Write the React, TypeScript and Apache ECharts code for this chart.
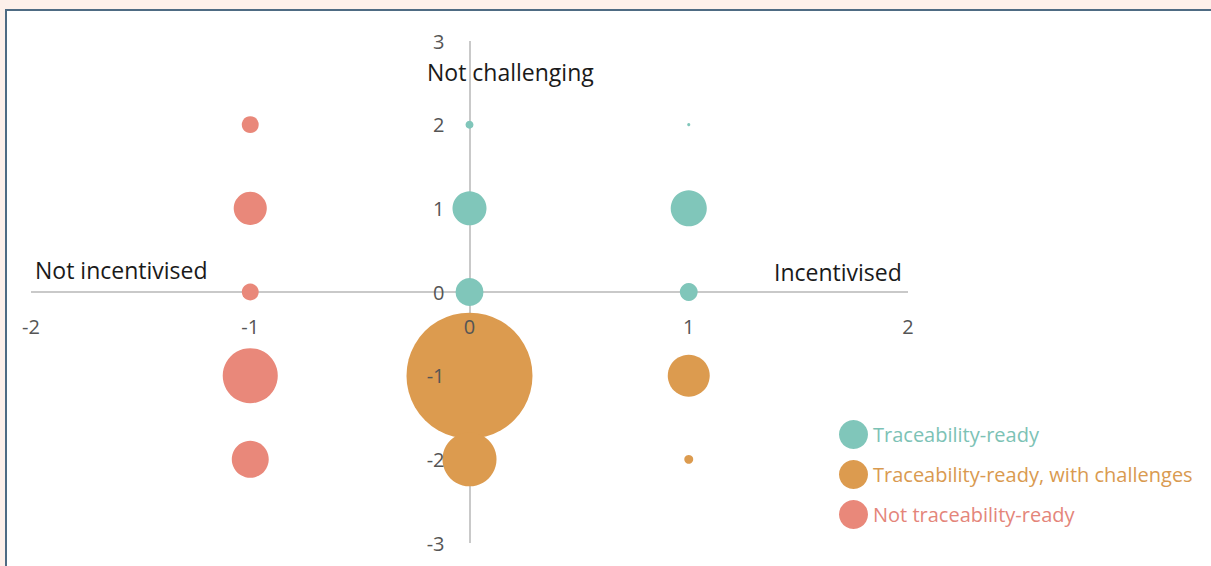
import React, { useEffect, useRef } from "react";
import * as echarts from "echarts";

const FONT = '"Open Sans", "Noto Sans", sans-serif';

const SERIES_NAMES = [
  "Traceability-ready",
  "Traceability-ready, with challenges",
  "Not traceability-ready",
];
const SERIES_COLORS = ["#80c6ba", "#dc9b4f", "#e9887a"];
const LEGEND_TEXT_COLORS = ["#7cc2b5", "#d99a50", "#e4857a"];

// Traceability-ready
const readyX = [0, 0, 0, 1, 1, 1];
const readyY = [2, 1, 0, 2, 1, 0];
const readyW = [0.4, 7.3, 4.9, 0.06, 8.2, 2.0];
// Traceability-ready, with challenges
const challengedX = [0, 0, 1, 1];
const challengedY = [-1, -2, -1, -2];
const challengedW = [100, 18.4, 11.1, 0.5];
// Not traceability-ready
const notReadyX = [-1, -1, -1, -1, -1];
const notReadyY = [2, 1, 0, -1, -2];
const notReadyW = [1.8, 6.9, 1.8, 19.1, 8.6];

const X_MIN = -2;
const X_MAX = 2;
const Y_MIN = -3;
const Y_MAX = 3;

const QUADRANT_LABELS = ["Not challenging", "Not incentivised", "Incentivised"];

const SIZE_SCALE = 12.6;

const GRID = { left: 31, right: 303, top: 41, bottom: 23 };
const W = 1211;
const H = 566;

function zip(xs: number[], ys: number[], ws: number[]) {
  return xs.map((x, i) => [x, ys[i], ws[i]]);
}

export default function App() {
  const ref = useRef<HTMLDivElement>(null);

  useEffect(() => {
    if (!ref.current) return;
    const chart = echarts.init(ref.current, null, { renderer: "svg" });
    const datasets = [
      zip(readyX, readyY, readyW),
      zip(challengedX, challengedY, challengedW),
      zip(notReadyX, notReadyY, notReadyW),
    ];
    // move the label-bearing axes onto the zero lines
    const gridW = W - GRID.left - GRID.right;
    const gridH = H - GRID.top - GRID.bottom;
    const xAxisOffset = -gridH * ((0 - Y_MIN) / (Y_MAX - Y_MIN));
    const yAxisOffset = -gridW * ((0 - X_MIN) / (X_MAX - X_MIN));
    const labelStyle = { fontFamily: FONT, fontSize: 20, color: "#555" };
    const quadFont = `23px ${FONT}`;
    chart.setOption({
      animation: false,
      backgroundColor: "transparent",
      grid: { ...GRID, containLabel: false, outerBoundsMode: "none" },
      xAxis: {
        type: "value",
        min: X_MIN,
        max: X_MAX,
        interval: 1,
        position: "bottom",
        offset: xAxisOffset,
        z: 10,
        axisLine: { show: false, onZero: false },
        axisTick: { show: false },
        axisLabel: { show: true, margin: 24, ...labelStyle },
        splitLine: { show: false },
      },
      yAxis: {
        type: "value",
        min: Y_MIN,
        max: Y_MAX,
        interval: 1,
        position: "left",
        offset: yAxisOffset,
        z: 10,
        axisLine: { show: false, onZero: false },
        axisTick: { show: false },
        axisLabel: { show: true, margin: 25, ...labelStyle },
        splitLine: { show: false },
      },
      legend: {
        orient: "vertical",
        left: 834,
        top: 415,
        icon: "circle",
        itemWidth: 29,
        itemHeight: 29,
        itemGap: 11,
        textStyle: { fontFamily: FONT, fontSize: 20 },
        data: SERIES_NAMES.map((n, i) => ({
          name: n,
          textStyle: { color: LEGEND_TEXT_COLORS[i], fontFamily: FONT, fontSize: 20 },
        })),
      },
      graphic: [
        {
          type: "text",
          left: 427,
          top: 60,
          style: { text: QUADRANT_LABELS[0], font: quadFont, fill: "#1a1a1a" },
          z: 20,
        },
        {
          type: "text",
          left: 35,
          top: 258,
          style: { text: QUADRANT_LABELS[1], font: quadFont, fill: "#1a1a1a" },
          z: 20,
        },
        {
          type: "text",
          left: 774,
          top: 260,
          style: { text: QUADRANT_LABELS[2], font: quadFont, fill: "#1a1a1a" },
          z: 20,
        },
      ],
      series: [
        {
          name: "axes",
          type: "scatter",
          data: [],
          silent: true,
          z: 1,
          markLine: {
            silent: true,
            z: 1,
            symbol: "none",
            label: { show: false },
            lineStyle: { color: "#c9c9c9", width: 2, type: "solid" },
            emphasis: { disabled: true },
            data: [
              [{ coord: [X_MIN, 0] }, { coord: [X_MAX, 0] }],
              [{ coord: [0, Y_MIN] }, { coord: [0, Y_MAX] }],
            ],
          },
        },
        ...SERIES_NAMES.map((name, i) => ({
          name,
          type: "scatter",
          data: datasets[i],
          symbol: "circle",
          symbolSize: (v: number[]) => SIZE_SCALE * Math.sqrt(v[2]),
          itemStyle: { color: SERIES_COLORS[i], opacity: 1 },
          emphasis: { disabled: true },
          z: 2,
        })),
      ],
    });
    return () => chart.dispose();
  }, []);

  return (
    <div
      style={{
        position: "fixed",
        left: 0,
        top: 0,
        width: W,
        height: H,
        background: "#fdf0ea",
        overflow: "hidden",
      }}
    >
      <div
        style={{
          position: "absolute",
          left: 5,
          top: 9,
          width: 1220,
          height: 580,
          background: "#ffffff",
          border: "2px solid #4e6b83",
          boxSizing: "border-box",
        }}
      />
      <div ref={ref} style={{ position: "absolute", left: 0, top: 0, width: W, height: H }} />
    </div>
  );
}
